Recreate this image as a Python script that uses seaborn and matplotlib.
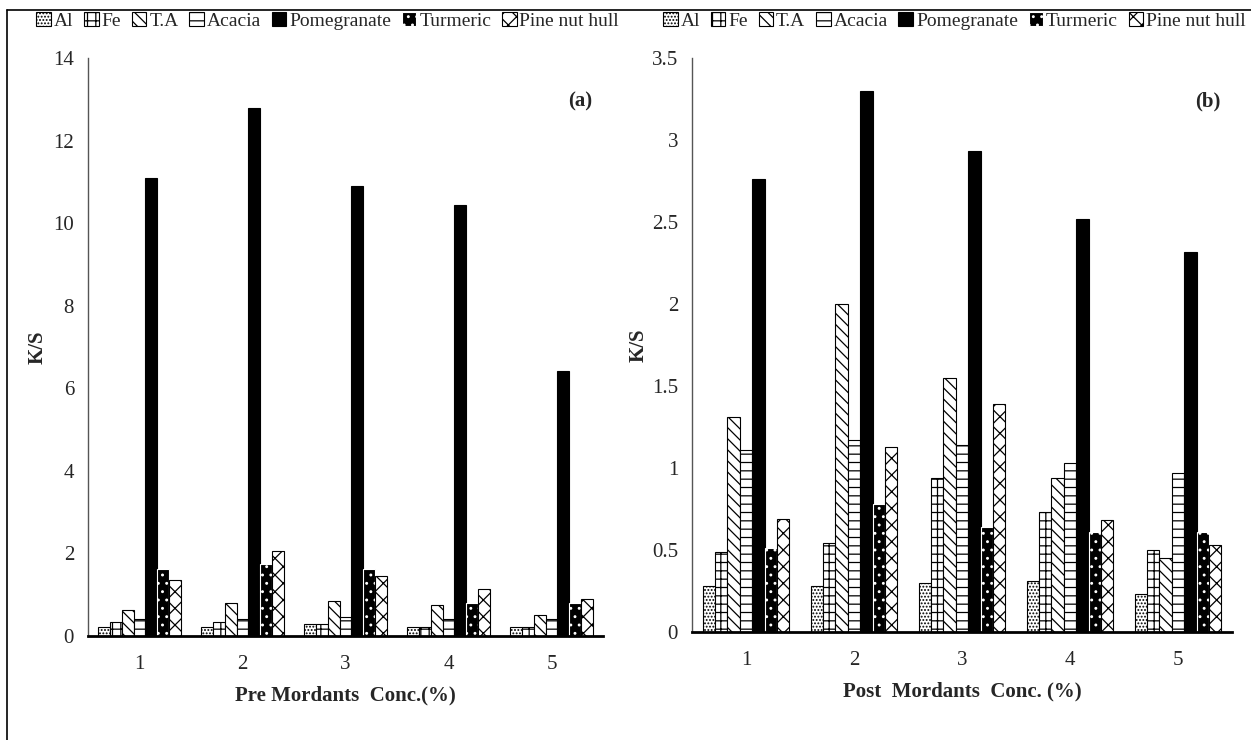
import numpy as np
import pandas as pd
import matplotlib
matplotlib.use('Agg')
import matplotlib.pyplot as plt
from matplotlib.ticker import FormatStrFormatter, MultipleLocator
import seaborn as sns

# values
conc = ['1', '2', '3', '4', '5']
mordants = ['Al', 'Fe', 'T.A', 'Acacia', 'Pomegranate', 'Turmeric', 'Pine nut hull']

pre_al = [0.23, 0.23, 0.29, 0.23, 0.23]
pre_fe = [0.34, 0.34, 0.29, 0.23, 0.23]
pre_ta = [0.63, 0.79, 0.85, 0.74, 0.51]
pre_acacia = [0.40, 0.40, 0.46, 0.40, 0.40]
pre_pomegranate = [11.1, 12.8, 10.9, 10.45, 6.43]
pre_turmeric = [1.63, 1.74, 1.63, 0.79, 0.79]
pre_pine = [1.35, 2.07, 1.46, 1.13, 0.90]

post_al = [0.28, 0.28, 0.30, 0.31, 0.23]
post_fe = [0.49, 0.54, 0.94, 0.73, 0.50]
post_ta = [1.31, 2.00, 1.55, 0.94, 0.45]
post_acacia = [1.11, 1.17, 1.14, 1.03, 0.97]
post_pomegranate = [2.76, 3.30, 2.93, 2.52, 2.32]
post_turmeric = [0.51, 0.78, 0.64, 0.61, 0.61]
post_pine = [0.69, 1.13, 1.39, 0.68, 0.53]

pre_series = [pre_al, pre_fe, pre_ta, pre_acacia, pre_pomegranate, pre_turmeric, pre_pine]
post_series = [post_al, post_fe, post_ta, post_acacia, post_pomegranate, post_turmeric, post_pine]


def long_frame(series):
    rows = []
    for name, vals in zip(mordants, series):
        for c, v in zip(conc, vals):
            rows.append({'conc': c, 'mordant': name, 'ks': v})
    return pd.DataFrame(rows)


sns.set_style('white')
plt.rcParams['font.family'] = ['Liberation Serif', 'DejaVu Serif']
plt.rcParams['hatch.linewidth'] = 0.9

palette = {'Al': 'white', 'Fe': 'white', 'T.A': 'white', 'Acacia': 'white',
           'Pomegranate': 'black', 'Turmeric': 'black', 'Pine nut hull': 'white'}
hatches = ['.....', '++', '\\\\\\', '--', '', '..', 'xx']
hatch_edge = ['black', 'black', 'black', 'black', 'black', 'white', 'black']

fig = plt.figure(figsize=(12.51, 7.40), dpi=100)
ax_a = fig.add_axes([88 / 1251, 104 / 740, 515 / 1251, 578 / 740])
ax_b = fig.add_axes([692 / 1251, 108 / 740, 540 / 1251, 574 / 740])

panels = [
    (ax_a, pre_series, 14, 2, 'Pre Mordants  Conc.(%)', '(a)', 0.262, 4),
    (ax_b, post_series, 3.5, 0.5, 'Post  Mordants  Conc. (%)', '(b)', 0.763, 2),
]

for ax, series, top, step, xlab, tag, lx, ypad in panels:
    df = long_frame(series)
    sns.barplot(data=df, x='conc', y='ks', hue='mordant', hue_order=mordants,
                palette=palette, saturation=1, width=0.8, legend=False,
                edgecolor='black', linewidth=0.8, ax=ax)
    for cont, h, ec in zip(ax.containers, hatches, hatch_edge):
        for p in cont.patches:
            p.set_hatch(h)
            p.set_edgecolor(ec)
    ax.set_ylim(0, top)
    ax.yaxis.set_major_locator(MultipleLocator(step))
    ax.yaxis.set_major_formatter(FormatStrFormatter('%g'))
    ax.tick_params(axis='both', length=0, labelsize=15, pad=14)
    ax.tick_params(axis='y', pad=10)
    for s in ['top', 'right']:
        ax.spines[s].set_visible(False)
    ax.spines['left'].set_color('#555555')
    ax.spines['left'].set_linewidth(1.0)
    ax.spines['bottom'].set_color('black')
    ax.spines['bottom'].set_linewidth(2.0)
    ax.set_xlabel(xlab, fontsize=15, fontweight='bold', labelpad=8)
    ax.set_ylabel('K/S', fontsize=15, fontweight='bold', labelpad=ypad)
    ax.text(0.955, 0.925, tag, transform=ax.transAxes, fontsize=15,
            fontweight='bold', ha='center', va='center')
    handles = [cont.patches[0] for cont in ax.containers]
    fig.legend(handles, mordants, loc='center', bbox_to_anchor=(lx, 0.972),
               ncol=7, frameon=False, fontsize=14, handlelength=0.75,
               handleheight=0.75, handletextpad=0.15, columnspacing=0.55)

# outer frame of the picture
fig.add_artist(plt.Line2D([7 / 1251, 7 / 1251], [0, 730 / 740], color='black', lw=1.2))
fig.add_artist(plt.Line2D([7 / 1251, 1], [730 / 740, 730 / 740], color='black', lw=1.2))

fig.savefig('out.png', dpi=100)
plt.close(fig)
